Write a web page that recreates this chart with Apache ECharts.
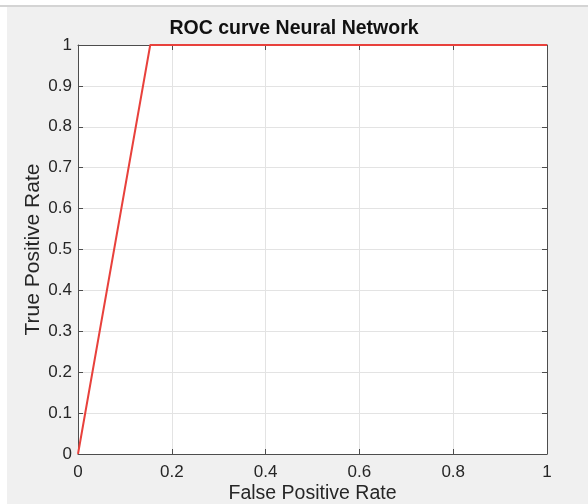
<!DOCTYPE html>
<html>
<head>
<meta charset="utf-8">
<script src="https://cdn.jsdelivr.net/npm/echarts@6/dist/echarts.min.js"></script>
<style>
  html, body { margin: 0; padding: 0; background: #fff; }
  #chart { width: 588px; height: 504px; }
</style>
</head>
<body>
<div id="chart"></div>
<script>
// ROC points
const fpr = [0, 0.154, 1]
const tpr = [0, 1, 1]
const tickStep = { x: 0.2, y: 0.1 }

const chart = echarts.init(document.getElementById('chart'))
const font = "'Liberation Sans', Arial, Helvetica, sans-serif"
const textColor = '#262626'

function makeAxis(pos, step, extra) {
  return Object.assign({
    type: 'value',
    position: pos,
    min: 0,
    max: 1,
    interval: step,
    axisLine: { show: true, onZero: false, lineStyle: { color: '#4d4d4d', width: 1 } },
    axisTick: { show: true, inside: true, length: 5, lineStyle: { color: '#4d4d4d', width: 1 } },
    axisLabel: { show: false },
    splitLine: { show: false },
    z: 10
  }, extra)
}

const option = {
  backgroundColor: '#fff',
  animation: false,
  graphic: [
    { type: 'rect', shape: { x: 7, y: 6, width: 581, height: 498 }, style: { fill: '#f0f0f0' }, z: -10 },
    { type: 'line', shape: { x1: 0, y1: 6, x2: 588, y2: 6 }, style: { stroke: '#d4d4d4', lineWidth: 2 }, z: -9 },
    { type: 'rect', shape: { x: 78, y: 45, width: 469, height: 409 }, style: { fill: '#fff' }, z: -8 }
  ],
  title: {
    text: 'ROC curve Neural Network',
    left: 'center',
    top: 14,
    textStyle: { fontFamily: font, fontSize: 19.5, fontWeight: 'bold', color: '#111' }
  },
  grid: { left: 78, right: 41, top: 45, bottom: 50, outerBoundsMode: 'none' },
  xAxis: [
    makeAxis('bottom', tickStep.x, {
      name: 'False Positive Rate',
      nameLocation: 'middle',
      nameGap: 30,
      nameMoveOverlap: false,
      nameTextStyle: { fontFamily: font, fontSize: 19.5, color: textColor },
      axisLabel: { show: true, fontFamily: font, fontSize: 17, color: textColor, margin: 10 },
      splitLine: { show: true, lineStyle: { color: '#e3e3e3', width: 1 } }
    }),
    makeAxis('top', tickStep.x)
  ],
  yAxis: [
    makeAxis('left', tickStep.y, {
      name: 'True Positive Rate',
      nameLocation: 'middle',
      nameGap: 34,
      nameMoveOverlap: false,
      nameTextStyle: { fontFamily: font, fontSize: 21, color: textColor },
      axisLabel: { show: true, fontFamily: font, fontSize: 17, color: textColor, margin: 6 },
      splitLine: { show: true, lineStyle: { color: '#e3e3e3', width: 1 } }
    }),
    makeAxis('right', tickStep.y)
  ],
  series: [
    {
      type: 'line',
      data: fpr.map((x, i) => [x, tpr[i]]),
      symbol: 'none',
      lineStyle: { color: '#e8413c', width: 2 },
      z: 20
    }
  ]
}

chart.setOption(option)
</script>
</body>
</html>
